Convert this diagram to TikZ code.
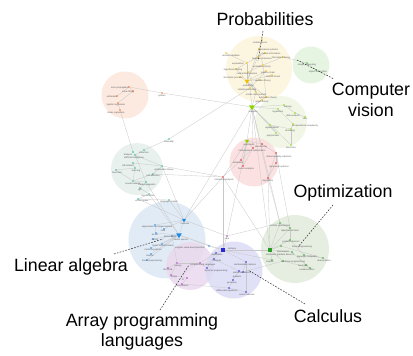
\documentclass[tikz,border=0pt]{standalone}
\usepackage{fontspec}
\setmainfont{Liberation Sans}
\usetikzlibrary{shapes.geometric}
\pgfdeclarelayer{back}
\pgfdeclarelayer{mid}
\pgfsetlayers{back,mid,main}
\definecolor{cYel}{HTML}{FBF4DC}
\definecolor{cCv}{HTML}{E2F3DD}
\definecolor{cOra}{HTML}{FCE5DA}
\definecolor{cLim}{HTML}{EEF5E3}
\definecolor{cTea}{HTML}{E4EEEA}
\definecolor{cRed}{HTML}{FADCDC}
\definecolor{cBlu}{HTML}{DCE7F5}
\definecolor{cPur}{HTML}{EAD9EE}
\definecolor{cLav}{HTML}{DBDBF5}
\definecolor{cGre}{HTML}{E2EBDC}
\definecolor{dYel}{HTML}{F0C000}
\definecolor{dCv}{HTML}{50C050}
\definecolor{dOra}{HTML}{F07838}
\definecolor{dLim}{HTML}{8CD400}
\definecolor{dTea}{HTML}{30B4A8}
\definecolor{dRed}{HTML}{E02020}
\definecolor{dBlu}{HTML}{2088E0}
\definecolor{dPur}{HTML}{B040C8}
\definecolor{dLav}{HTML}{2828D0}
\definecolor{dGre}{HTML}{28A028}
\tikzset{
  blob/.style={circle,draw=none,fill opacity=0.85,inner sep=0},
  pt/.style={circle,fill=#1,inner sep=0,minimum size=1.6pt},
  tri/.style={regular polygon,regular polygon sides=3,shape border rotate=180,fill=#1,inner sep=0,minimum size=7pt},
  sq/.style={rectangle,fill=#1,inner sep=0,minimum size=3.2pt},
  lab/.style={inner sep=0,font=\fontsize{2.3}{2.6}\selectfont,text=black!65},
  edge/.style={draw=black!22,line width=0.3pt},
  leader/.style={draw=black!80,line width=0.55pt,dash pattern=on 1.6pt off 1.4pt},
  big/.style={inner sep=0,align=center,font=\fontsize{17.8}{20.5}\selectfont}
}
\begin{document}
\begin{tikzpicture}[x=1pt,y=-1pt]
\useasboundingbox (0,0) rectangle (413,356);
% cluster circles
\begin{pgfonlayer}{back}
\node[blob,fill=cYel,minimum size=66pt] (cy) at (259,69) {};
\node[blob,fill=cCv,minimum size=37pt] (ccv) at (311,65) {};
\node[blob,fill=cOra,minimum size=47pt] (co) at (125,95) {};
\node[blob,fill=cLim,minimum size=52pt] (cl) at (281,122) {};
\node[blob,fill=cTea,minimum size=52pt] (ct) at (137,169) {};
\node[blob,fill=cRed,minimum size=49pt] (cr) at (254,162) {};
\node[blob,fill=cBlu,minimum size=77pt] (cb) at (167,240) {};
\node[blob,fill=cPur,minimum size=48pt] (cp) at (190,266) {};
\node[blob,fill=cLav,minimum size=57pt] (cv) at (234,270) {};
\node[blob,fill=cGre,minimum size=68pt] (cg) at (295,249) {};
\end{pgfonlayer}
% hubs
\node[tri=dLim] (lT) at (252,107) {};
\node[lab] (lTl) at (253,112) {statistics};
\node[tri=dLim,minimum size=5pt] (lT2) at (247,141) {};
\node[lab] (lT2l) at (249,145) {regression};
\node[tri=dYel,minimum size=6pt] (yT) at (247,81) {};
\node[lab] (yTl) at (248,86) {probability};
\node[tri=dBlu,minimum size=5pt] (bT) at (184,220) {};
\node[lab] (bTl) at (185,224) {matrices};
\node[tri=dBlu,minimum size=6.5pt] (bT2) at (179,235) {};
\node[lab] (bT2l) at (181,240) {vector spaces};
\node[sq=dLav] (vS) at (223,250) {};
\node[lab] (vSl) at (232,249) {calculus};
\node[sq=dGre,minimum size=4pt] (gS) at (270,250) {};
\node[lab] (gSl) at (283,252) {optimization};
% ordinary nodes: name/x/y/label x/label y/text/colour
\foreach \n/\x/\y/\lx/\ly/\t/\c in {
 ya/262/40/260/43/combinatorics/dYel, yb/259/49/268/50/rule-based systems/dYel,
 yc/226/53/231/56/random variables/dYel, yd/265/53/271/54/mutual information/dYel,
 ye/258/57/262/59/bayesian inference/dYel, yf/283/57/281/58/information theory/dYel,
 yg/247/63/238/64/expectation/dYel, yh/263/65/262/67/probability theory/dYel,
 yi/236/69/233/70/hypothesis testing/dYel, yj/248/72/247/74/central limit theorem/dYel,
 yk/266/71/268/73/markov chain/dYel, yl/272/75/273/77/random forest/dYel,
 ym/240/77/233/78/stochastic process/dYel, yn/260/80/263/81/decision theory/dYel,
 yo/250/88/247/90/statistical learning/dYel, yp/256/92/256/95/monte carlo method/dYel,
 yq/266/97/268/98/estimation theory/dYel, yr/262/100/262/102/graph theory/dYel,
 ca/307/63/307/65/image processing/dCv, cb/316/70/318/72/object recognition/dCv,
 oa/129/87/120/88/error propagation/dOra, ob/133/91/128/92/curve fitting/dOra,
 oc/117/96/112/97/estimation/dOra, od/118/103/116/105/logistic regression/dOra,
 oe/120/110/116/113/linear regression/dOra, of/162/93/162/96/splines/dOra,
 la/284/105/288/107/entropy/dLim, lb/278/109/278/112/logarithms/dLim,
 lc/295/113/293/116/data analysis/dLim, ld/305/117/305/119/sets/dLim,
 le/270/125/272/128/regularization/dLim, lf/293/124/305/126/computational complexity/dLim,
 lg/291/129/290/131/clustering/dLim, lh/276/133/273/136/polynomials/dLim,
 li/291/145/291/148/heuristics/dLim,
 ra/262/144/261/147/data mining/dRed, rb/253/148/252/151/mathematical optimization/dRed,
 rc/276/153/279/157/dimensionality reduction/dRed, rd/241/160/238/163/estimation/dRed,
 re/243/166/246/169/fourier analysis/dRed, rf/276/163/279/167/dynamical systems/dRed,
 rg/268/178/268/181/algorithms/dRed, rh/223/177/224/180/numerical analysis/dRed,
 ta/169/139/169/142/inequality/dTea, tb/133/152/128/155/analysis/dTea,
 tc/144/150/144/153/induction/dTea, td/135/155/134/158/artificial intelligence/dTea,
 te/133/163/128/166/information/dTea, tf/135/168/136/171/learning/dTea,
 tg/116/170/117/173/heuristics/dTea, th/162/166/164/170/optimization theory/dTea,
 ti/153/174/153/176/self-attention/dTea, tj/133/181/133/184/neural network/dTea,
 tk/146/182/147/185/backpropagation/dTea, tl/140/188/140/190/gpt/dTea,
 tm/149/194/148/196/loss function/dTea, tn/138/199/142/201/vector space/dTea,
 to/169/200/169/202/language models/dTea,
 ba/155/225/157/227/eigenvalues and eigenvectors/dBlu, bb/164/229/163/231/rank/dBlu,
 bc/156/233/155/235/tensor/dBlu, bd/172/236/170/237/determinant/dBlu,
 be/153/239/155/240/kernel/dBlu, bf/162/244/163/246/linear transformation/dBlu,
 bg/151/248/153/250/matrix equations/dBlu, bh/151/254/150/256/inverse/dBlu,
 bi/147/260/152/261/linear programming/dBlu, bj/209/246/190/248/singular value decomposition/dBlu,
 pa/177/263/178/266/numpy/dPur, pb/168/268/168/270/MATLAB/dPur,
 pc/171/275/174/277/arrays/dPur, pd/187/278/183/280/R/dPur,
 pe/182/284/182/286/vectorization/dPur, pf/200/263/203/265/programming languages/dPur,
 pg/227/236/227/239/julia/dPur,
 va/216/253/217/255/derivatives/dLav, vb/214/259/217/261/integrals/dLav,
 vc/207/268/216/271/dynamic programming/dLav, vd/246/262/245/265/multivariable calculus/dLav,
 ve/239/271/242/273/partial derivatives/dLav, vf/243/272/237/277/gradient/dLav,
 vg/233/280/232/283/geometry/dLav, vh/229/288/227/291/differential equations/dLav,
 vi/246/292/247/295/vector calculus/dLav,
 ga/280/223/280/226/convex optimization/dGre, gb/290/228/290/231/objective function/dGre,
 gc/290/240/291/242/gradient descent/dGre, gd/281/246/302/247/linear programming/dGre,
 ge/292/252/280/255/stochastic gradient descent/dGre, gf/304/255/307/257/lagrange multipliers/dGre,
 gg/323/258/324/261/dual problem/dGre, gh/272/260/270/262/simplex/dGre,
 gi/283/261/293/262/nonlinear programming/dGre, gj/306/265/303/266/heuristics/dGre,
 gk/310/268/307/270/metaheuristics/dGre}
 {\node[pt=\c] (\n) at (\x,\y) {}; \node[lab] (\n l) at (\lx,\ly) {\t};}
% edges
\begin{pgfonlayer}{mid}
\foreach \a/\b in {
 ya/yb, yb/yh, yb/yT, yc/yg, yd/ye, ye/yT, yf/yh, yf/ca, ca/cb, yg/yT, yh/yj, yi/yT, yj/yT,
 yk/yT, yl/yT, ym/yT, yn/yT, yo/yT, yp/yT, yq/yT, yr/yT, yr/lT, yo/lT, yp/lT, yq/lT,
 yk/yo, yj/yp, yh/yq, yd/yi,
 oa/ob, oa/oc, ob/od, od/oe, oa/of, of/lT, oe/tb,
 lT/la, lT/lb, lT/le, lT/lh, la/lc, lc/ld, lb/lf, lf/lg, lg/le, lg/li, lh/le, lT/lT2,
 lT/rb, lT/rg, lT/gS, lT/ga, lT/bT, lT/li, lT2/rb, lT2/rd, lT2/re, lT2/ra,
 ra/rc, rb/rd, rc/rf, rf/rg, re/rd, rb/re, rc/rg, rh/rd, rh/lT2, rh/th, rh/bT, rh/ti,
 ta/tc, ta/yo, tb/td, tc/td, td/th, te/tf, tf/tg, te/th, th/ti, ti/tj, tj/tk, tk/tl,
 tl/tm, tm/tn, tn/to, tj/tf, tk/bT2, to/bT, tn/bT, tm/bT2, td/tk, tg/tj, th/bT,
 bT/bb, bT/ba, bT/bT2, bT2/bc, bT2/bd, bT2/be, bT2/bf, bT2/bg, bT2/bh, bT2/bi, ba/bc,
 bT2/bj, bT/pg, bT2/vS, bj/vS, bd/pa,
 pa/pb, pa/pc, pc/pd, pd/pe, pa/pf, pf/va, pe/vh, pf/vc, pg/ga, pg/lT2, pg/vS,
 vS/va, vS/vb, vS/vd, vS/gS, vS/gh, va/vc, vb/ve, vd/vf, ve/vg, vg/vh, vh/vi, vd/vi,
 vf/gi, vS/rh,
 gS/ga, gS/gb, gS/gc, gS/gd, gS/ge, gS/gh, gS/gi, ga/gb, gb/gc, gc/gf, gd/gg,
 ge/gj, gj/gk, gf/gg, gi/gk, rg/gS, rg/ga, rc/gb, rh/gS}
 {\draw[edge] (\a) -- (\b);}
\end{pgfonlayer}
% big labels and leaders
\node[big] (Lp) at (265,19) {Probabilities};
\node[big] (Lc) at (371,100) {Computer\\vision};
\node[big] (Lo) at (343,193) {Optimization};
\node[big] (Ll) at (71,267) {Linear algebra};
\node[big] (La) at (142,332) {Array programming\\languages};
\node[big] (Lk) at (328,316) {Calculus};
\coordinate (p1) at (263,31); \coordinate (p2) at (258,61);
\coordinate (c1) at (297,60); \coordinate (c2) at (334,79);
\coordinate (o1) at (333,205); \coordinate (o2) at (298,247);
\coordinate (l1) at (114,254); \coordinate (l2) at (163,239);
\coordinate (a1) at (160,310); \coordinate (a2) at (189,265);
\coordinate (k1) at (305,304); \coordinate (k2) at (248,270);
\draw[leader] (p1) -- (p2);
\draw[leader] (c1) -- (c2);
\draw[leader] (o1) -- (o2);
\draw[leader] (l1) -- (l2);
\draw[leader] (a1) -- (a2);
\draw[leader] (k1) -- (k2);
\end{tikzpicture}
\end{document}
